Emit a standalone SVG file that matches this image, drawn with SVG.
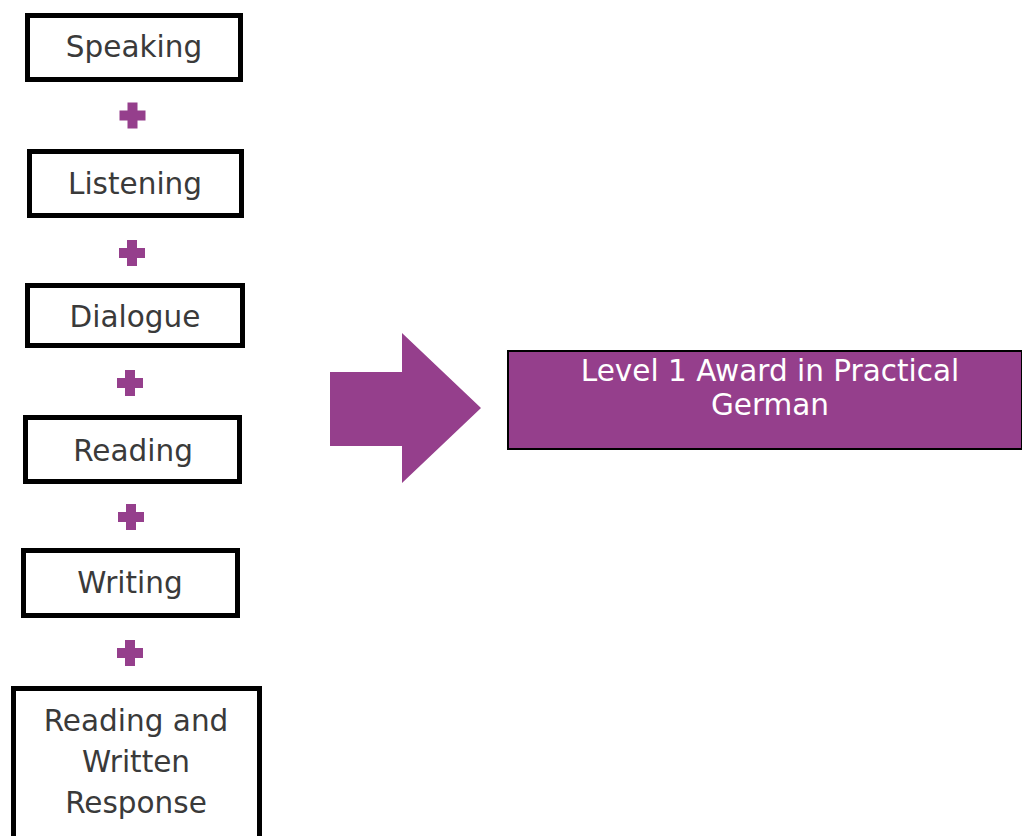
<svg xmlns="http://www.w3.org/2000/svg" width="1022" height="836" viewBox="0 0 1022 836">
<style>
.box{fill:#ffffff;stroke:#000000;stroke-width:5}
.lbl{font-family:"DejaVu Sans","Verdana",sans-serif;font-size:29.5px;fill:#3a3a3a;text-anchor:middle}
.plus{fill:#953f8c}
.award{fill:#953f8c;stroke:#000000;stroke-width:2}
.wlbl{font-family:"DejaVu Sans","Verdana",sans-serif;font-size:29.5px;fill:#ffffff;text-anchor:middle}
</style>
<defs>
<path id="plus" d="M-5,-13 H5 V-5 H13 V5 H5 V13 H-5 V5 H-13 V-5 H-5 Z"/>
</defs>
<rect width="1022" height="836" fill="#ffffff"/>
<g id="speaking">
<rect class="box" x="27.5" y="15.5" width="213" height="64"/>
<text class="lbl" x="134" y="57">Speaking</text>
</g>
<g id="listening">
<rect class="box" x="29.5" y="151.5" width="212" height="64"/>
<text class="lbl" x="135" y="194">Listening</text>
</g>
<g id="dialogue">
<rect class="box" x="27.5" y="285.5" width="215" height="60"/>
<text class="lbl" x="135" y="327">Dialogue</text>
</g>
<g id="reading">
<rect class="box" x="25.5" y="417.5" width="214" height="64"/>
<text class="lbl" x="133" y="461">Reading</text>
</g>
<g id="writing">
<rect class="box" x="23.5" y="550.5" width="214" height="65"/>
<text class="lbl" x="130" y="593">Writing</text>
</g>
<g id="reading-written">
<rect class="box" x="13.5" y="688.5" width="246" height="200"/>
<text class="lbl" x="136" y="731">Reading and</text>
<text class="lbl" x="136" y="772">Written</text>
<text class="lbl" x="136" y="813">Response</text>
</g>
<g id="connectors">
<use href="#plus" class="plus" x="132.5" y="115.5"/>
<use href="#plus" class="plus" x="132" y="253"/>
<use href="#plus" class="plus" x="130" y="383"/>
<use href="#plus" class="plus" x="131" y="517"/>
<use href="#plus" class="plus" x="130" y="653"/>
<polygon class="plus" points="330,372 402,372 402,333 481,408 402,483 402,446 330,446"/>
</g>
<g id="award">
<rect class="award" x="508" y="351" width="514" height="98"/>
<text class="wlbl" x="770" y="381">Level 1 Award in Practical</text>
<text class="wlbl" x="770" y="415">German</text>
</g>
</svg>
